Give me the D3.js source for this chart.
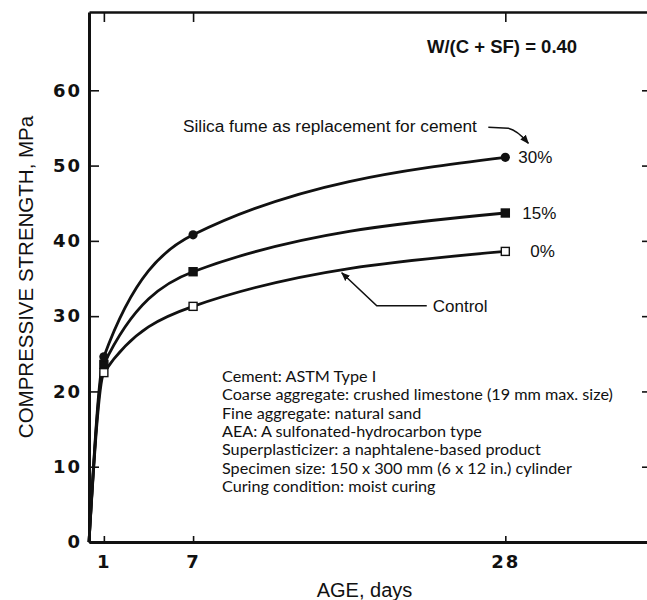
<!DOCTYPE html>
<html>
<head>
<meta charset="utf-8">
<script src="https://cdn.jsdelivr.net/npm/d3@7"></script>
<style>
  body { margin: 0; background: #fff; }
  svg { display: block; }
</style>
</head>
<body>
<svg id="chart" width="647" height="600"></svg>
<script>
// Compressive strength (MPa) vs. age (days) for silica-fume concretes
const ages = [0, 1, 7, 28];
const strength30 = [0, 24.6, 40.8, 51.1];
const strength15 = [0, 23.6, 35.9, 43.7];
const strength0 = [0, 22.5, 31.3, 38.6];
const seriesNames = ["30%", "15%", "0%"];
const markerShapes = ["circle", "square", "openSquare"];

const yTickValues = [0, 10, 20, 30, 40, 50, 60];
const xTickValues = [1, 7, 28];
const xTickLabels = ["1", "7", "28"];

const ratioLabel = "W/(C + SF) = 0.40";
const replacementLabel = "Silica fume as replacement for cement";
const controlLabel = "Control";
const xTitle = "AGE, days";
const yTitle = "COMPRESSIVE STRENGTH, MPa";
const notes = [
  "Cement: ASTM Type I",
  "Coarse aggregate: crushed limestone (19 mm max. size)",
  "Fine aggregate: natural sand",
  "AEA: A sulfonated-hydrocarbon type",
  "Superplasticizer: a naphtalene-based product",
  "Specimen size: 150 x 300 mm (6 x 12 in.) cylinder",
  "Curing condition: moist curing"
];

const series = [strength30, strength15, strength0].map((vals, i) => ({
  name: seriesNames[i],
  shape: markerShapes[i],
  points: ages.map((a, j) => ({ age: a, value: vals[j] }))
}));

const svg = d3.select("#chart");
const frame = { left: 89, right: 654, top: 12, bottom: 542 };

const x = d3.scaleLinear().domain([0, 38]).range([frame.left, frame.right]);
const y = d3.scaleLinear().domain([0, 70.4]).range([frame.bottom, frame.top]);

const ink = "#111";

// Arrowhead
svg.append("defs").append("marker")
  .attr("id", "arrow")
  .attr("viewBox", "0 0 10 10")
  .attr("refX", 9).attr("refY", 5)
  .attr("markerWidth", 9).attr("markerHeight", 9)
  .attr("markerUnits", "userSpaceOnUse")
  .attr("orient", "auto")
  .append("path")
  .attr("d", "M0,1 L10,5 L0,9 Z")
  .attr("fill", ink);

// Axes
const tickFont = "'DejaVu Sans', sans-serif";

const leftAxis = svg.append("g")
  .attr("transform", `translate(${frame.left},0)`)
  .call(d3.axisLeft(y).tickValues(yTickValues).tickSizeInner(-10).tickSizeOuter(0).tickPadding(7));

const bottomAxis = svg.append("g")
  .attr("transform", `translate(0,${frame.bottom})`)
  .call(d3.axisBottom(x).tickValues(xTickValues).tickFormat((d, i) => xTickLabels[i])
    .tickSizeInner(-6).tickSizeOuter(0).tickPadding(13));

const topAxis = svg.append("g")
  .attr("transform", `translate(0,${frame.top})`)
  .call(d3.axisTop(x).tickValues(xTickValues).tickFormat("").tickSizeInner(-10).tickSizeOuter(0));

const rightAxis = svg.append("g")
  .attr("transform", `translate(${frame.right},0)`)
  .call(d3.axisRight(y).tickValues(yTickValues.filter(v => v > 0)).tickFormat("").tickSizeInner(-12).tickSizeOuter(0));

[leftAxis, bottomAxis, topAxis, rightAxis].forEach(g => {
  g.select(".domain").attr("stroke", ink);
  g.selectAll(".tick line").attr("stroke", ink).attr("stroke-width", 1.6);
  g.selectAll(".tick text")
    .attr("fill", ink)
    .style("font-family", tickFont)
    .style("font-weight", "bold")
    .style("font-size", "18px")
    .style("letter-spacing", "2px");
});
leftAxis.select(".domain").attr("stroke-width", 3);
bottomAxis.select(".domain").attr("stroke-width", 3);
topAxis.select(".domain").attr("stroke-width", 2.5);
rightAxis.select(".domain").attr("stroke-width", 2.5);

// Curves
const line = d3.line()
  .x(d => x(d.age))
  .y(d => y(d.value))
  .curve(d3.curveMonotoneX);

const curves = svg.append("g").selectAll("path")
  .data(series)
  .join("path")
  .attr("d", d => line(d.points))
  .attr("fill", "none")
  .attr("stroke", ink)
  .attr("stroke-width", 2.8)
  .attr("stroke-linejoin", "round");

// Markers at measured ages (1, 7, 28 days)
const markerGroup = svg.append("g");
series.slice().reverse().forEach(s => {
  const pts = s.points.filter(p => p.age > 0);
  if (s.shape === "circle") {
    markerGroup.selectAll(null).data(pts).join("circle")
      .attr("cx", d => x(d.age)).attr("cy", d => y(d.value))
      .attr("r", 4.6).attr("fill", ink);
  } else {
    const size = 8;
    markerGroup.selectAll(null).data(pts).join("rect")
      .attr("x", d => x(d.age) - size / 2).attr("y", d => y(d.value) - size / 2)
      .attr("width", size).attr("height", size)
      .attr("fill", s.shape === "square" ? ink : "#fff")
      .attr("stroke", ink).attr("stroke-width", 1.4);
  }
});

// End-of-curve percentage labels
const labelFont = "'Liberation Sans', Arial, sans-serif";
const lastAge = ages[ages.length - 1];
svg.append("g").selectAll("text")
  .data(series)
  .join("text")
  .attr("x", (d, i) => x(lastAge) + [13, 17, 25][i])
  .attr("y", d => y(d.points[d.points.length - 1].value) + 6)
  .attr("fill", ink)
  .style("font-family", labelFont)
  .style("font-size", "17px")
  .text(d => d.name);

// Water / binder ratio
svg.append("text")
  .attr("x", 427).attr("y", 53)
  .attr("fill", ink)
  .style("font-family", labelFont)
  .style("font-weight", "bold")
  .style("font-size", "18.5px")
  .text(ratioLabel);

// "Silica fume as replacement for cement" with its pointer to the 30% curve
const top30 = { x: x(lastAge), y: y(strength30[strength30.length - 1]) };
svg.append("text")
  .attr("x", 183).attr("y", 132)
  .attr("fill", ink)
  .style("font-family", labelFont)
  .style("font-size", "17.3px")
  .text(replacementLabel);

svg.append("path")
  .attr("d", `M${top30.x - 17},${top30.y - 30} L${top30.x + 3},${top30.y - 29} Q${top30.x + 12},${top30.y - 27} ${top30.x + 23},${top30.y - 14}`)
  .attr("fill", "none")
  .attr("stroke", ink)
  .attr("stroke-width", 1.6)
  .attr("marker-end", "url(#arrow)");

// "Control" pointer onto the 0% curve
const controlPath = curves.filter(d => d.name === "0%").node();
function curveYAt(pathNode, px) {
  const total = pathNode.getTotalLength();
  let lo = 0, hi = total;
  for (let k = 0; k < 40; k++) {
    const mid = (lo + hi) / 2;
    if (pathNode.getPointAtLength(mid).x < px) lo = mid; else hi = mid;
  }
  return pathNode.getPointAtLength((lo + hi) / 2).y;
}
const tipX = x(17);
const tipY = curveYAt(controlPath, tipX) + 3;
svg.append("path")
  .attr("d", `M${tipX + 85},${tipY + 33} L${tipX + 35},${tipY + 33} L${tipX},${tipY}`)
  .attr("fill", "none")
  .attr("stroke", ink)
  .attr("stroke-width", 1.6)
  .attr("marker-end", "url(#arrow)");
svg.append("text")
  .attr("x", tipX + 91).attr("y", tipY + 39)
  .attr("fill", ink)
  .style("font-family", labelFont)
  .style("font-size", "17px")
  .text(controlLabel);

// Mix details
svg.append("g").selectAll("text")
  .data(notes)
  .join("text")
  .attr("x", 222)
  .attr("y", (d, i) => 382 + i * 18.3)
  .attr("fill", ink)
  .style("font-family", "Lato, sans-serif")
  .style("font-size", "16.2px")
  .text(d => d);

// Axis titles
svg.append("text")
  .attr("x", (frame.left + 640) / 2)
  .attr("y", 597)
  .attr("text-anchor", "middle")
  .attr("fill", ink)
  .style("font-family", labelFont)
  .style("font-size", "20px")
  .text(xTitle);

svg.append("text")
  .attr("transform", `translate(33,277) rotate(-90)`)
  .attr("text-anchor", "middle")
  .attr("fill", ink)
  .style("font-family", labelFont)
  .style("font-size", "20.5px")
  .text(yTitle);
</script>
</body>
</html>
